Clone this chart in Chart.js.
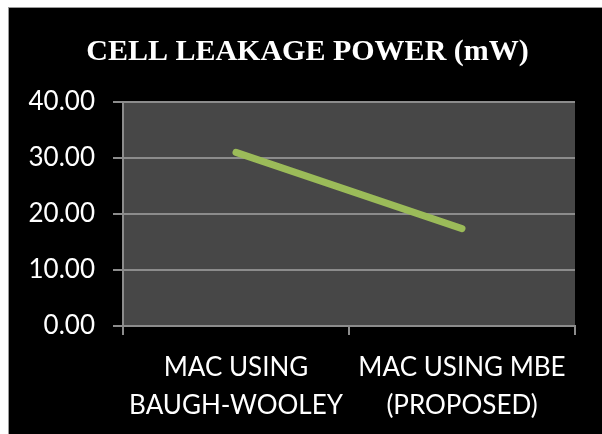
<!DOCTYPE html>
<html>
<head>
<meta charset="utf-8">
<script src="https://cdn.jsdelivr.net/npm/chart.js@4/dist/chart.umd.min.js"></script>
<style>
    html, body {
        margin: 0;
        padding: 0;
        background: #ffffff;
        width: 602px;
        height: 434px;
        overflow: hidden;
    }

    .frame {
        position: absolute;
        left: 8px;
        top: 7px;
        width: 594px;
        height: 427px;
        box-sizing: border-box;
        background: #000000;
        border-left: 1px solid #9a9a9a;
        border-top: 1px solid #9a9a9a;
    }

    .frame canvas {
        display: block;
    }
</style>
</head>
<body>
<div class="frame">
    <canvas id="leakage-chart" width="593" height="426"></canvas>
</div>
<script>
const categories = [
    ['MAC USING', 'BAUGH-WOOLEY'],
    ['MAC USING MBE', '(PROPOSED)'],
];
const leakagePower = [31.0, 17.4];
const yTickValues = [0, 10, 20, 30, 40];

const gridGray = '#8c8c8c';
const labelFont = {
    family: 'Lato, "Open Sans", sans-serif',
    size: 26,
    lineHeight: 1.45,
};

const plotBackground = {
    id: 'plotBackground',
    beforeDraw(chart) {
        const { ctx, chartArea } = chart;
        ctx.save();
        ctx.fillStyle = '#474747';
        ctx.fillRect(chartArea.left, chartArea.top, chartArea.right - chartArea.left, chartArea.bottom - chartArea.top);
        ctx.restore();
    },
};

// title sits a little right of the canvas centre in the original
const nudgeTitle = {
    id: 'nudgeTitle',
    afterLayout(chart) {
        if (chart.titleBlock) {
            chart.titleBlock.left += 31;
        }
    },
};

const canvas = document.getElementById('leakage-chart');

new Chart(canvas.getContext('2d'), {
    type: 'line',
    data: {
        labels: categories,
        datasets: [
            {
                label: 'Cell leakage power',
                data: leakagePower,
                borderColor: '#9bbb59',
                borderWidth: 7,
                borderCapStyle: 'round',
                pointRadius: 0,
                tension: 0,
            },
        ],
    },
    options: {
        responsive: false,
        animation: false,
        layout: {
            padding: {
                left: 0,
                right: 27,
                top: 0,
                bottom: 0,
            },
        },
        plugins: {
            legend: false,
            tooltip: false,
            title: {
                display: true,
                text: 'CELL LEAKAGE POWER (mW)',
                color: '#ffffff',
                font: {
                    family: '"Liberation Serif", "Times New Roman", serif',
                    size: 30,
                    weight: 'bold',
                    lineHeight: 1.2,
                },
                padding: {
                    top: 26,
                    bottom: 32,
                },
            },
        },
        scales: {
            x: {
                offset: true,
                grid: {
                    offset: true,
                    drawOnChartArea: false,
                    drawTicks: true,
                    tickLength: 9,
                    color: gridGray,
                    lineWidth: 2,
                },
                border: {
                    display: true,
                    color: gridGray,
                    width: 2,
                },
                ticks: {
                    color: '#ffffff',
                    font: labelFont,
                    maxRotation: 0,
                    autoSkip: false,
                    padding: 14,
                },
                afterFit(scale) {
                    scale.height = 108;
                },
            },
            y: {
                min: 0,
                max: 40,
                afterBuildTicks(scale) {
                    scale.ticks = yTickValues.map((value) => ({ value }));
                },
                grid: {
                    color: gridGray,
                    lineWidth: 2,
                    tickLength: 10,
                },
                border: {
                    display: true,
                    color: gridGray,
                    width: 2,
                },
                ticks: {
                    color: '#ffffff',
                    font: labelFont,
                    padding: 18,
                    callback(value) {
                        return Number(value).toFixed(2);
                    },
                },
                afterFit(scale) {
                    scale.width = 114;
                },
            },
        },
    },
    plugins: [plotBackground, nudgeTitle],
});
</script>
</body>
</html>
